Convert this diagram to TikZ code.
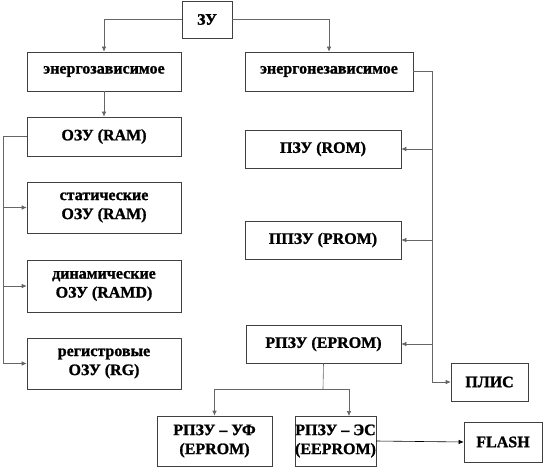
\documentclass[tikz,border=0pt]{standalone}
\usepackage{fontspec}
\setmainfont{Liberation Serif}[BoldFeatures={FakeBold=1.2}]
\usetikzlibrary{arrows.meta,calc}
\begin{document}
\begin{tikzpicture}[x=1pt,y=-1pt,
  box/.style={draw=black!75,line width=0.6pt,fill=white,inner sep=1pt,align=center,
    font=\fontsize{16}{19}\selectfont\bfseries},
  conn/.style={draw=black!60,line width=0.6pt},
  arr/.style={conn,-{Latex[length=5pt,width=4.5pt]}}]
\useasboundingbox (0,0) rectangle (543,468);
\node[box,minimum width=50pt,minimum height=37pt] (zu) at (207,19.5) {ЗУ};
\node[box,minimum width=154pt,minimum height=39pt] (ez) at (104,71.5) {энергозависимое};
\node[box,minimum width=168pt,minimum height=39pt] (enz) at (329,71.5) {энергонезависимое};
\node[box,minimum width=154pt,minimum height=39pt] (ozu) at (104,136.5) {ОЗУ (RAM)};
\node[box,minimum width=154pt,minimum height=51pt] (stat) at (104,207.5) {статические\\ОЗУ (RAM)};
\node[box,minimum width=154pt,minimum height=52pt] (dyn) at (104,286) {динамические\\ОЗУ (RAMD)};
\node[box,minimum width=154pt,minimum height=51pt] (reg) at (104,363.5) {регистровые\\ОЗУ (RG)};
\node[box,minimum width=156pt,minimum height=38pt] (pzu) at (323,149) {ПЗУ (ROM)};
\node[box,minimum width=156pt,minimum height=38pt] (ppzu) at (323,240) {ППЗУ (PROM)};
\node[box,minimum width=155pt,minimum height=38pt] (rpzu) at (323.5,344) {РПЗУ (EPROM)};
\node[box,minimum width=77pt,minimum height=38pt] (plis) at (489.5,382) {ПЛИС};
\node[box,minimum width=115pt,minimum height=50pt] (uf) at (214.5,441) {РПЗУ – УФ\\(EPROM)};
\node[box,minimum width=77pt,minimum height=50pt,inner sep=0pt] (es) at (335.5,441) {РПЗУ – ЭС\\(EEPROM)};
\node[box,minimum width=78pt,minimum height=40pt] (flash) at (503,442) {FLASH};
\coordinate (rbus) at (432,0);
\coordinate (lbus) at (3,0);
\coordinate (split) at (323,389);
\coordinate (esin) at (349,416);
\draw[arr] (zu.west) -| (ez.north);
\draw[arr] (zu.east) -| (enz.north);
\draw[arr] (ez.south) -- (ozu.north);
\draw[arr] (enz.east) -| (rbus |- plis.west) -- (plis.west);
\draw[arr] (rbus |- pzu.east) -- (pzu.east);
\draw[arr] (rbus |- ppzu.east) -- (ppzu.east);
\draw[arr] (rbus |- rpzu.east) -- (rpzu.east);
\draw[arr] (ozu.west) -| (lbus |- reg.west) -- (reg.west);
\draw[arr] (lbus |- stat.west) -- (stat.west);
\draw[arr] (lbus |- dyn.west) -- (dyn.west);
\draw[conn] (rpzu.south) -- (split);
\draw[arr] (split) -| (uf.north);
\draw[arr] (split) -| (esin);
\draw[arr,draw=black] (es.east) -- (flash.west);
\end{tikzpicture}
\end{document}
